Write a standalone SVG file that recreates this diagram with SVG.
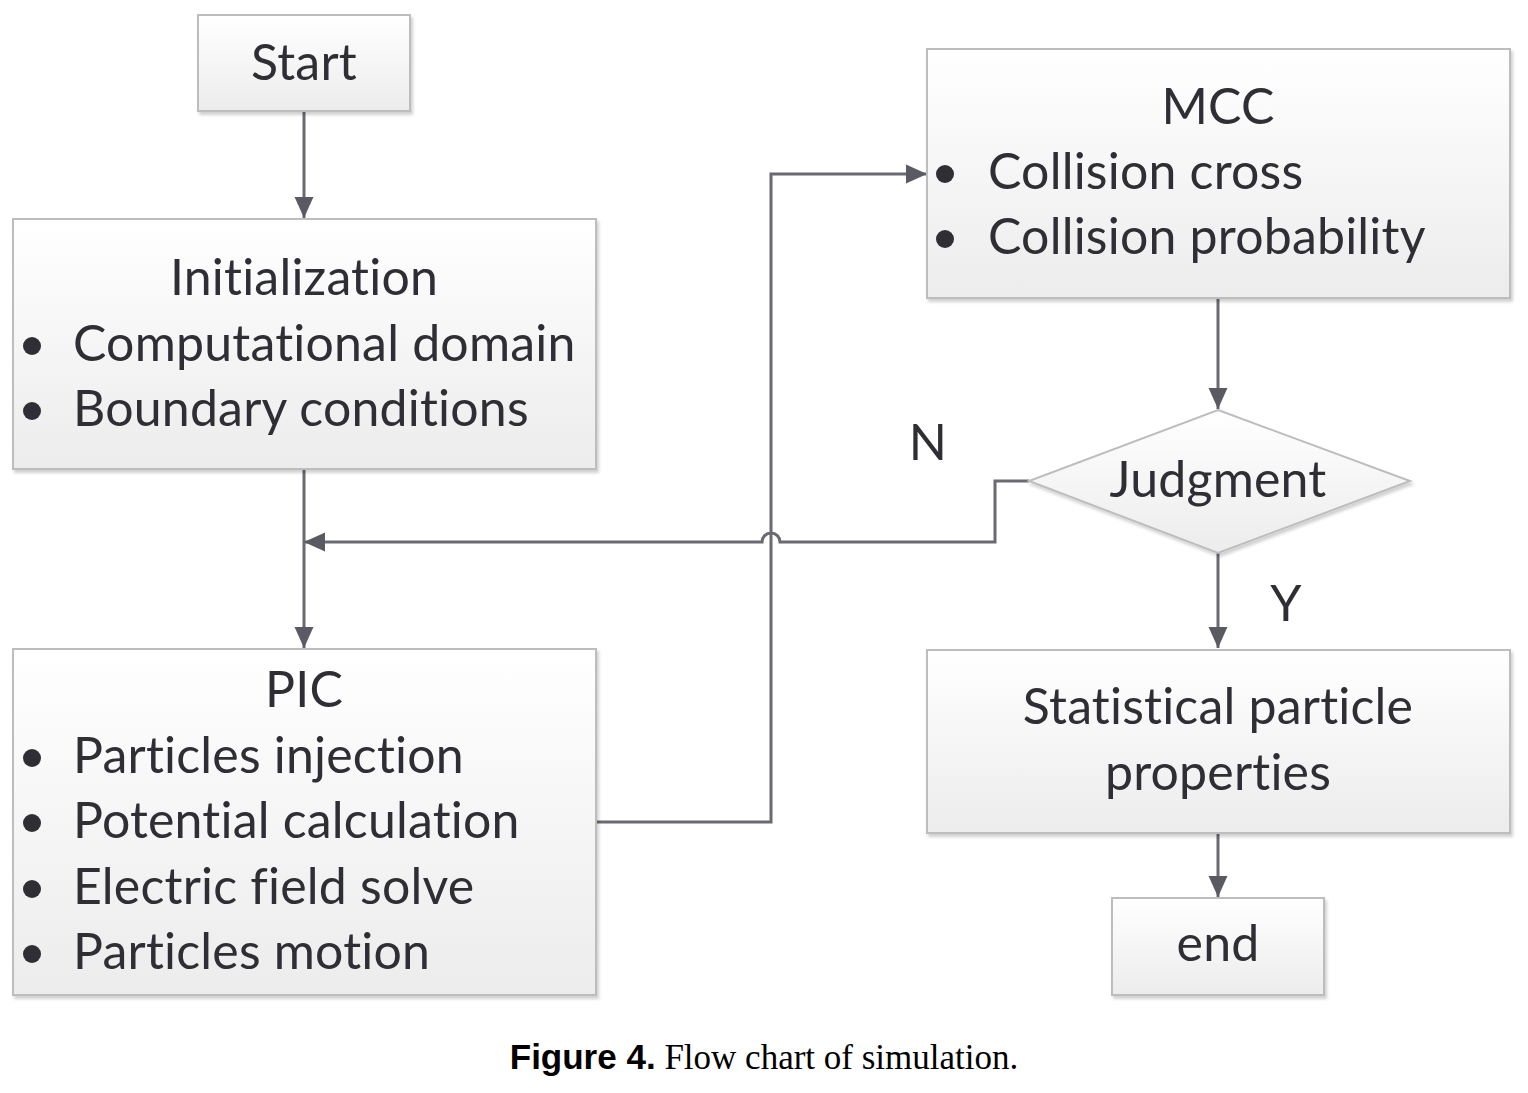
<svg xmlns="http://www.w3.org/2000/svg" width="1528" height="1093" viewBox="0 0 1528 1093">
<defs>
<linearGradient id="g" x1="0" y1="0" x2="0" y2="1">
<stop offset="0" stop-color="#ffffff"/>
<stop offset="1" stop-color="#ececec"/>
</linearGradient>
<filter id="sh" x="-5%" y="-5%" width="110%" height="115%">
<feDropShadow dx="2" dy="3" stdDeviation="1.5" flood-color="#000" flood-opacity="0.18"/>
</filter>
<marker id="a" viewBox="0 0 20 20" refX="20" refY="10" markerWidth="21" markerHeight="21" markerUnits="userSpaceOnUse" orient="auto">
<path d="M0,1 L20,10 L0,19 z" fill="#5a5a62"/>
</marker>
</defs>
<style>
.box{fill:url(#g);stroke:#bdbdbd;stroke-width:2;filter:url(#sh)}
.t{font-family:Lato,"Liberation Sans",sans-serif;font-size:50px;fill:#2e2e34;letter-spacing:0.2px;font-variant-ligatures:none;font-feature-settings:"liga" 0,"clig" 0,"dlig" 0}
.c{text-anchor:middle}
.ln{fill:none;stroke:#6a6a72;stroke-width:3}
.dot{fill:#2e2e34}
</style>
<rect width="1528" height="1093" fill="#ffffff"/>
<g id="connectors">
<path class="ln" d="M304,111 V218" marker-end="url(#a)"/>
<path class="ln" d="M304,469 V648" marker-end="url(#a)"/>
<path class="ln" d="M596,822 H771 V174 H927" marker-end="url(#a)"/>
<path class="ln" d="M1218,298 V409" marker-end="url(#a)"/>
<path class="ln" d="M1029,481 H995 V542 H780 A9,9 0 0 0 762,542 H304" marker-end="url(#a)"/>
<path class="ln" d="M1218,553 V648" marker-end="url(#a)"/>
<path class="ln" d="M1218,833 V897" marker-end="url(#a)"/>
</g>
<g id="start">
<rect class="box" x="198" y="15" width="212" height="96"/>
<text class="t c" x="304" y="80">Start</text>
</g>
<g id="initialization">
<rect class="box" x="13" y="219" width="583" height="250"/>
<text class="t c" x="304" y="295">Initialization</text>
<circle class="dot" cx="32" cy="346" r="9"/>
<text class="t" x="73" y="361">Computational domain</text>
<circle class="dot" cx="32" cy="411" r="9"/>
<text class="t" x="73" y="426">Boundary conditions</text>
</g>
<g id="pic">
<rect class="box" x="13" y="649" width="583" height="346"/>
<text class="t c" x="304" y="707">PIC</text>
<circle class="dot" cx="32" cy="758" r="9"/>
<text class="t" x="73" y="773">Particles injection</text>
<circle class="dot" cx="32" cy="823" r="9"/>
<text class="t" x="73" y="838">Potential calculation</text>
<circle class="dot" cx="32" cy="889" r="9"/>
<text class="t" x="73" y="904">Electric field solve</text>
<circle class="dot" cx="32" cy="954" r="9"/>
<text class="t" x="73" y="969">Particles motion</text>
</g>
<g id="mcc">
<rect class="box" x="927" y="49" width="583" height="249"/>
<text class="t c" x="1218" y="124">MCC</text>
<circle class="dot" cx="945" cy="174" r="9"/>
<text class="t" x="988" y="189">Collision cross</text>
<circle class="dot" cx="945" cy="239" r="9"/>
<text class="t" x="988" y="254">Collision probability</text>
</g>
<g id="judgment">
<polygon class="box" points="1218,410 1410,481 1218,553 1029,481"/>
<text class="t c" x="1218" y="497">Judgment</text>
</g>
<g id="stat">
<rect class="box" x="927" y="650" width="583" height="183"/>
<text class="t c" x="1218" y="724">Statistical particle</text>
<text class="t c" x="1218" y="790">properties</text>
</g>
<g id="end">
<rect class="box" x="1112" y="898" width="212" height="97"/>
<text class="t c" x="1218" y="961">end</text>
</g>
<g id="labels">
<text class="t c" x="928" y="460">N</text>
<text class="t c" x="1286" y="621">Y</text>
</g>
<text x="764" y="1069" text-anchor="middle" style="font-size:35px;fill:#000"><tspan style="font-family:'Liberation Sans',Arial,sans-serif;font-weight:bold">Figure 4.</tspan><tspan style="font-family:'Liberation Serif','Times New Roman',serif"> Flow chart of simulation.</tspan></text>
</svg>
